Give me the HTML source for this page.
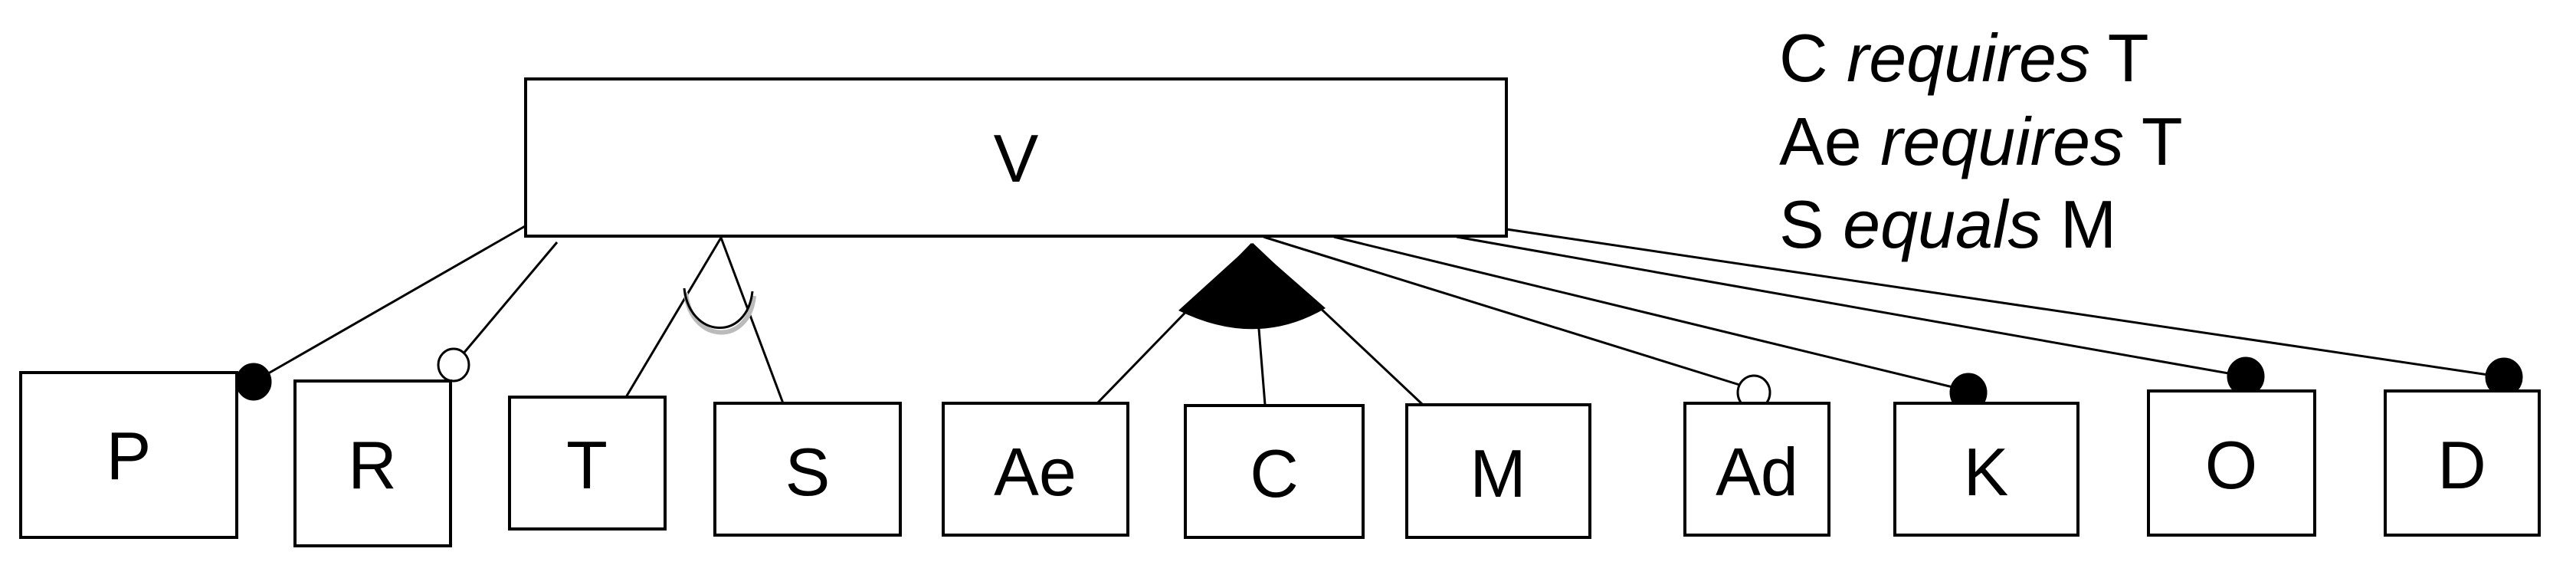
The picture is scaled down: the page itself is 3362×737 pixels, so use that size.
<!DOCTYPE html>
<html><head><meta charset="utf-8"><style>
html,body{margin:0;padding:0;background:#fff}
svg{display:block}
text{font-family:"Liberation Sans",sans-serif;fill:#000}
</style></head><body>
<svg width="3362" height="737" viewBox="0 0 3362 737" xmlns="http://www.w3.org/2000/svg">
<g stroke="#000" stroke-width="3" fill="none">
 <line x1="694" y1="290" x2="345" y2="490"/>
 <line x1="727" y1="316" x2="604" y2="462"/>
 <line x1="941" y1="310" x2="817" y2="518"/>
 <line x1="941" y1="310" x2="1022" y2="526"/>
 <line x1="1634" y1="318" x2="1432" y2="526"/>
 <line x1="1634" y1="318" x2="1651" y2="528"/>
 <line x1="1634" y1="318" x2="1857" y2="528"/>
 <line x1="1649" y1="309" x2="2280" y2="505"/>
 <line x1="1741" y1="309" x2="2569" y2="510"/>
 <line x1="1901" y1="309" x2="2931" y2="491"/>
 <line x1="1966" y1="299" x2="3268" y2="492"/>
 <path d="M895,382 C902,448 977,452 984,386" stroke="#bbb" stroke-width="6"/>
 <path d="M893,376 C900,442 975,446 982,380"/>
</g>
<path d="M1634,318 L1538,405 Q1640,455 1730,402 Z" fill="#000"/>
<g stroke="#000" stroke-width="3">
 <ellipse cx="331" cy="498" rx="22" ry="23" fill="#000"/>
 <ellipse cx="592" cy="476" rx="20" ry="21" fill="#fff"/>
 <ellipse cx="2289" cy="512" rx="21" ry="22" fill="#fff"/>
 <ellipse cx="2569" cy="512" rx="23" ry="24" fill="#000"/>
 <ellipse cx="2931" cy="491" rx="23" ry="24" fill="#000"/>
 <ellipse cx="3268" cy="492" rx="23" ry="24" fill="#000"/>
</g>
<g stroke="#000" stroke-width="4" fill="#fff">
 <rect x="686" y="103" width="1280" height="205"/>
 <rect x="27" y="486" width="282" height="215"/>
 <rect x="385" y="497" width="203" height="215"/>
 <rect x="665" y="518" width="203" height="172"/>
 <rect x="933" y="526" width="242" height="172"/>
 <rect x="1231" y="526" width="241" height="172"/>
 <rect x="1547" y="529" width="232" height="172"/>
 <rect x="1836" y="528" width="239" height="173"/>
 <rect x="2199" y="526" width="188" height="172"/>
 <rect x="2473" y="526" width="239" height="172"/>
 <rect x="2804" y="510" width="217" height="188"/>
 <rect x="3113" y="510" width="201" height="188"/>
</g>
<g font-size="88" text-anchor="middle">
 <text x="1326" y="237">V</text>
 <text x="168" y="625">P</text>
 <text x="486" y="637">R</text>
 <text x="766" y="637">T</text>
 <text x="1054" y="646">S</text>
 <text x="1351" y="646">Ae</text>
 <text x="1663" y="648">C</text>
 <text x="1955" y="648">M</text>
 <text x="2293" y="646">Ad</text>
 <text x="2592" y="646">K</text>
 <text x="2912" y="637">O</text>
 <text x="3213" y="637">D</text>
</g>
<g font-size="88">
 <text x="2322" y="106">C <tspan font-style="italic">requires</tspan> T</text>
 <text x="2322" y="215">Ae <tspan font-style="italic">requires</tspan> T</text>
 <text x="2322" y="323">S <tspan font-style="italic">equals</tspan> M</text>
</g>
</svg>
</body></html>
